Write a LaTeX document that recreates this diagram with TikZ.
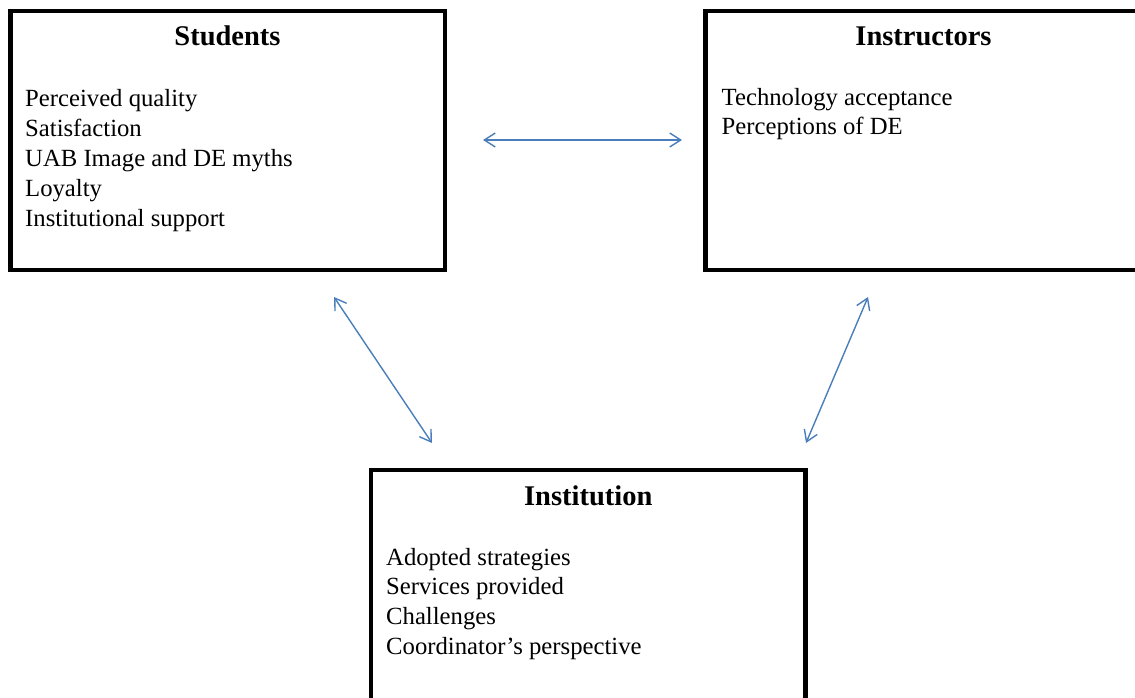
\documentclass[tikz,border=0pt]{standalone}
\usepackage{fontspec}
\setmainfont{Liberation Serif}
\usetikzlibrary{arrows.meta}
\definecolor{linkblue}{RGB}{74,126,187}
\begin{document}
\begin{tikzpicture}[x=1pt,y=-1pt,
  groupbox/.style={draw=black,line width=4.5pt,rectangle,inner sep=0pt,
    minimum width=#1},
  heading/.style={anchor=base,font=\fontsize{28.5}{34}\selectfont\bfseries,inner sep=0pt},
  item/.style={anchor=base west,font=\fontsize{24.7}{30}\selectfont,inner sep=0pt},
  link/.style={draw=linkblue,line width=1.4pt,
    {Straight Barb[length=11pt,width=14pt]}-{Straight Barb[length=11pt,width=14pt]}}]
\useasboundingbox (0,0) rectangle (1135,698);
\clip (0,0) rectangle (1135,698);

% three groups
\node[groupbox=434.5pt,minimum height=259pt] (students) at (227.75,140.5) {};
\node[groupbox=436pt,minimum height=259pt] (instructors) at (923.5,140.5) {};
\node[groupbox=434.5pt,minimum height=232pt] (institution) at (588.25,586) {};

% Students
\node[heading] (stitle) at (227.5,46) {Students};
\node[item] (s1) at (25,107) {Perceived quality};
\node[item] (s2) at (25,137) {Satisfaction};
\node[item] (s3) at (25,166) {UAB Image and DE myths};
\node[item] (s4) at (25,196) {Loyalty};
\node[item] (s5) at (25,226) {Institutional support};

% Instructors
\node[heading] (ititle) at (923.5,46) {Instructors};
\node[item] (i1) at (721.5,106) {Technology acceptance};
\node[item] (i2) at (721.5,135) {Perceptions of DE};

% Institution
\node[heading] (ntitle) at (588.25,505) {Institution};
\node[item] (n1) at (386,565) {Adopted strategies};
\node[item] (n2) at (386,594) {Services provided};
\node[item] (n3) at (386,624) {Challenges};
\node[item] (n4) at (386,654) {Coordinator’s perspective};

% arrow ends
\coordinate (sRight) at (483,140);
\coordinate (iLeft) at (682,140);
\coordinate (sBottom) at (334,297);
\coordinate (nLeftTop) at (432,443);
\coordinate (iBottom) at (868,297);
\coordinate (nRightTop) at (806,443);

\draw[link] (sRight) -- (iLeft);
\draw[link] (sBottom) -- (nLeftTop);
\draw[link] (iBottom) -- (nRightTop);
\end{tikzpicture}
\end{document}
